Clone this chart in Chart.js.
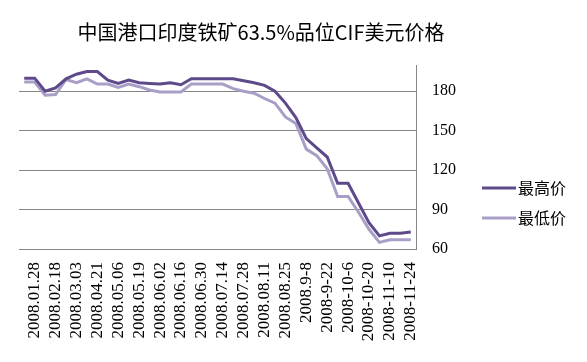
<!DOCTYPE html>
<html>
<head>
<meta charset="utf-8">
<script src="https://cdn.jsdelivr.net/npm/chart.js@4/dist/chart.umd.min.js"></script>
<style>
  html, body { margin: 0; padding: 0; background: #fff; }
  #wrap { width: 587px; height: 362px; }
</style>
</head>
<body>
<div id="wrap"><canvas id="chart"></canvas></div>
<script>
// Category axis: one entry per observation, label shown on every second one
const categories = [
  "", "2008.01.28", "", "2008.02.18", "", "2008.03.03", "", "2008.04.21",
  "", "2008.05.06", "", "2008.05.19", "", "2008.06.02", "", "2008.06.16",
  "", "2008.06.30", "", "2008.07.14", "", "2008.07.28", "", "2008.08.11",
  "", "2008.08.25", "", "2008.9-8", "", "2008-9-22", "", "2008-10-6",
  "", "2008-10-20", "", "2008-11-10", "", "2008-11-24"
];

// Highest price (USD)
const highPrice = [
  190, 190, 180, 182.5, 189.5, 193, 195, 195, 188.5, 186,
  188.5, 186.5, 186, 185.5, 186.5, 185, 189.5, 189.5, 189.5, 189.5,
  189.5, 188, 186.5, 184.5, 180, 171, 160, 144, 137, 130,
  110, 110, 95, 80, 70, 72, 72, 73
];

// Lowest price (USD)
const lowPrice = [
  187, 187, 177, 177.5, 189, 186.5, 189.5, 185.5, 185.5, 183,
  185.5, 183.5, 181, 179.5, 179.5, 179.5, 185.5, 185.5, 185.5, 185.5,
  182, 180, 178.5, 174.5, 171, 160.5, 155.5, 136, 131, 121,
  100, 100, 88, 75, 65, 67, 67, 67
];

const seriesNames = ["最高价", "最低价"];
const titleText = "中国港口印度铁矿63.5%品位CIF美元价格";
const yTicks = [60, 90, 120, 150, 180];

const gridColor = "#868686";

// Title and legend drawn by hand so they sit where the original puts them
const decorPlugin = {
  id: "decor",
  afterDraw(chart) {
    const ctx = chart.ctx;
    ctx.save();
    ctx.fillStyle = "#000";
    ctx.font = '20px "Noto Sans CJK SC"';
    ctx.textAlign = "center";
    ctx.textBaseline = "middle";
    ctx.fillText(titleText, 261, 32);

    ctx.font = '16px "Noto Sans CJK SC"';
    ctx.textAlign = "left";
    chart.data.datasets.forEach((ds, i) => {
      const y = 188 + i * 30;
      ctx.strokeStyle = ds.borderColor;
      ctx.lineWidth = 3;
      ctx.beginPath();
      ctx.moveTo(482, y);
      ctx.lineTo(516, y);
      ctx.stroke();
      ctx.fillText(ds.label, 518, y);
    });
    ctx.restore();
  }
};

new Chart(document.getElementById("chart").getContext("2d"), {
  type: "line",
  data: {
    labels: categories,
    datasets: [
      {
        label: seriesNames[0],
        data: highPrice,
        borderColor: "#5e4a8b",
        borderWidth: 3,
        pointRadius: 0,
        tension: 0,
      },
      {
        label: seriesNames[1],
        data: lowPrice,
        borderColor: "#a99fc6",
        borderWidth: 3,
        pointRadius: 0,
        tension: 0,
      },
    ],
  },
  options: {
    responsive: true,
    maintainAspectRatio: false,
    animation: false,
    layout: { padding: { top: 65, right: 127, left: 19, bottom: 0 } },
    plugins: {
      legend: { display: false },
      title: { display: false },
      tooltip: { enabled: false },
    },
    scales: {
      x: {
        offset: true,
        grid: { display: false, drawTicks: false },
        border: { display: true, color: gridColor, width: 1 },
        ticks: {
          autoSkip: false,
          minRotation: 90,
          maxRotation: 90,
          padding: 13,
          color: "#000",
          font: { family: '"Liberation Serif"', size: 17 },
        },
        afterFit(scale) { scale.height = 113; },
      },
      y: {
        position: "right",
        min: 60,
        max: 200,
        grid: { color: gridColor, drawTicks: false },
        border: { display: true, color: gridColor, width: 1 },
        ticks: {
          stepSize: 30,
          includeBounds: false,
          padding: 16,
          color: "#000",
          font: { family: '"Liberation Serif"', size: 16 },
        },
        afterBuildTicks(scale) {
          scale.ticks = yTicks.map((v) => ({ value: v }));
        },
        afterFit(scale) { scale.width = 44; },
      },
    },
  },
  plugins: [decorPlugin],
});
</script>
</body>
</html>
